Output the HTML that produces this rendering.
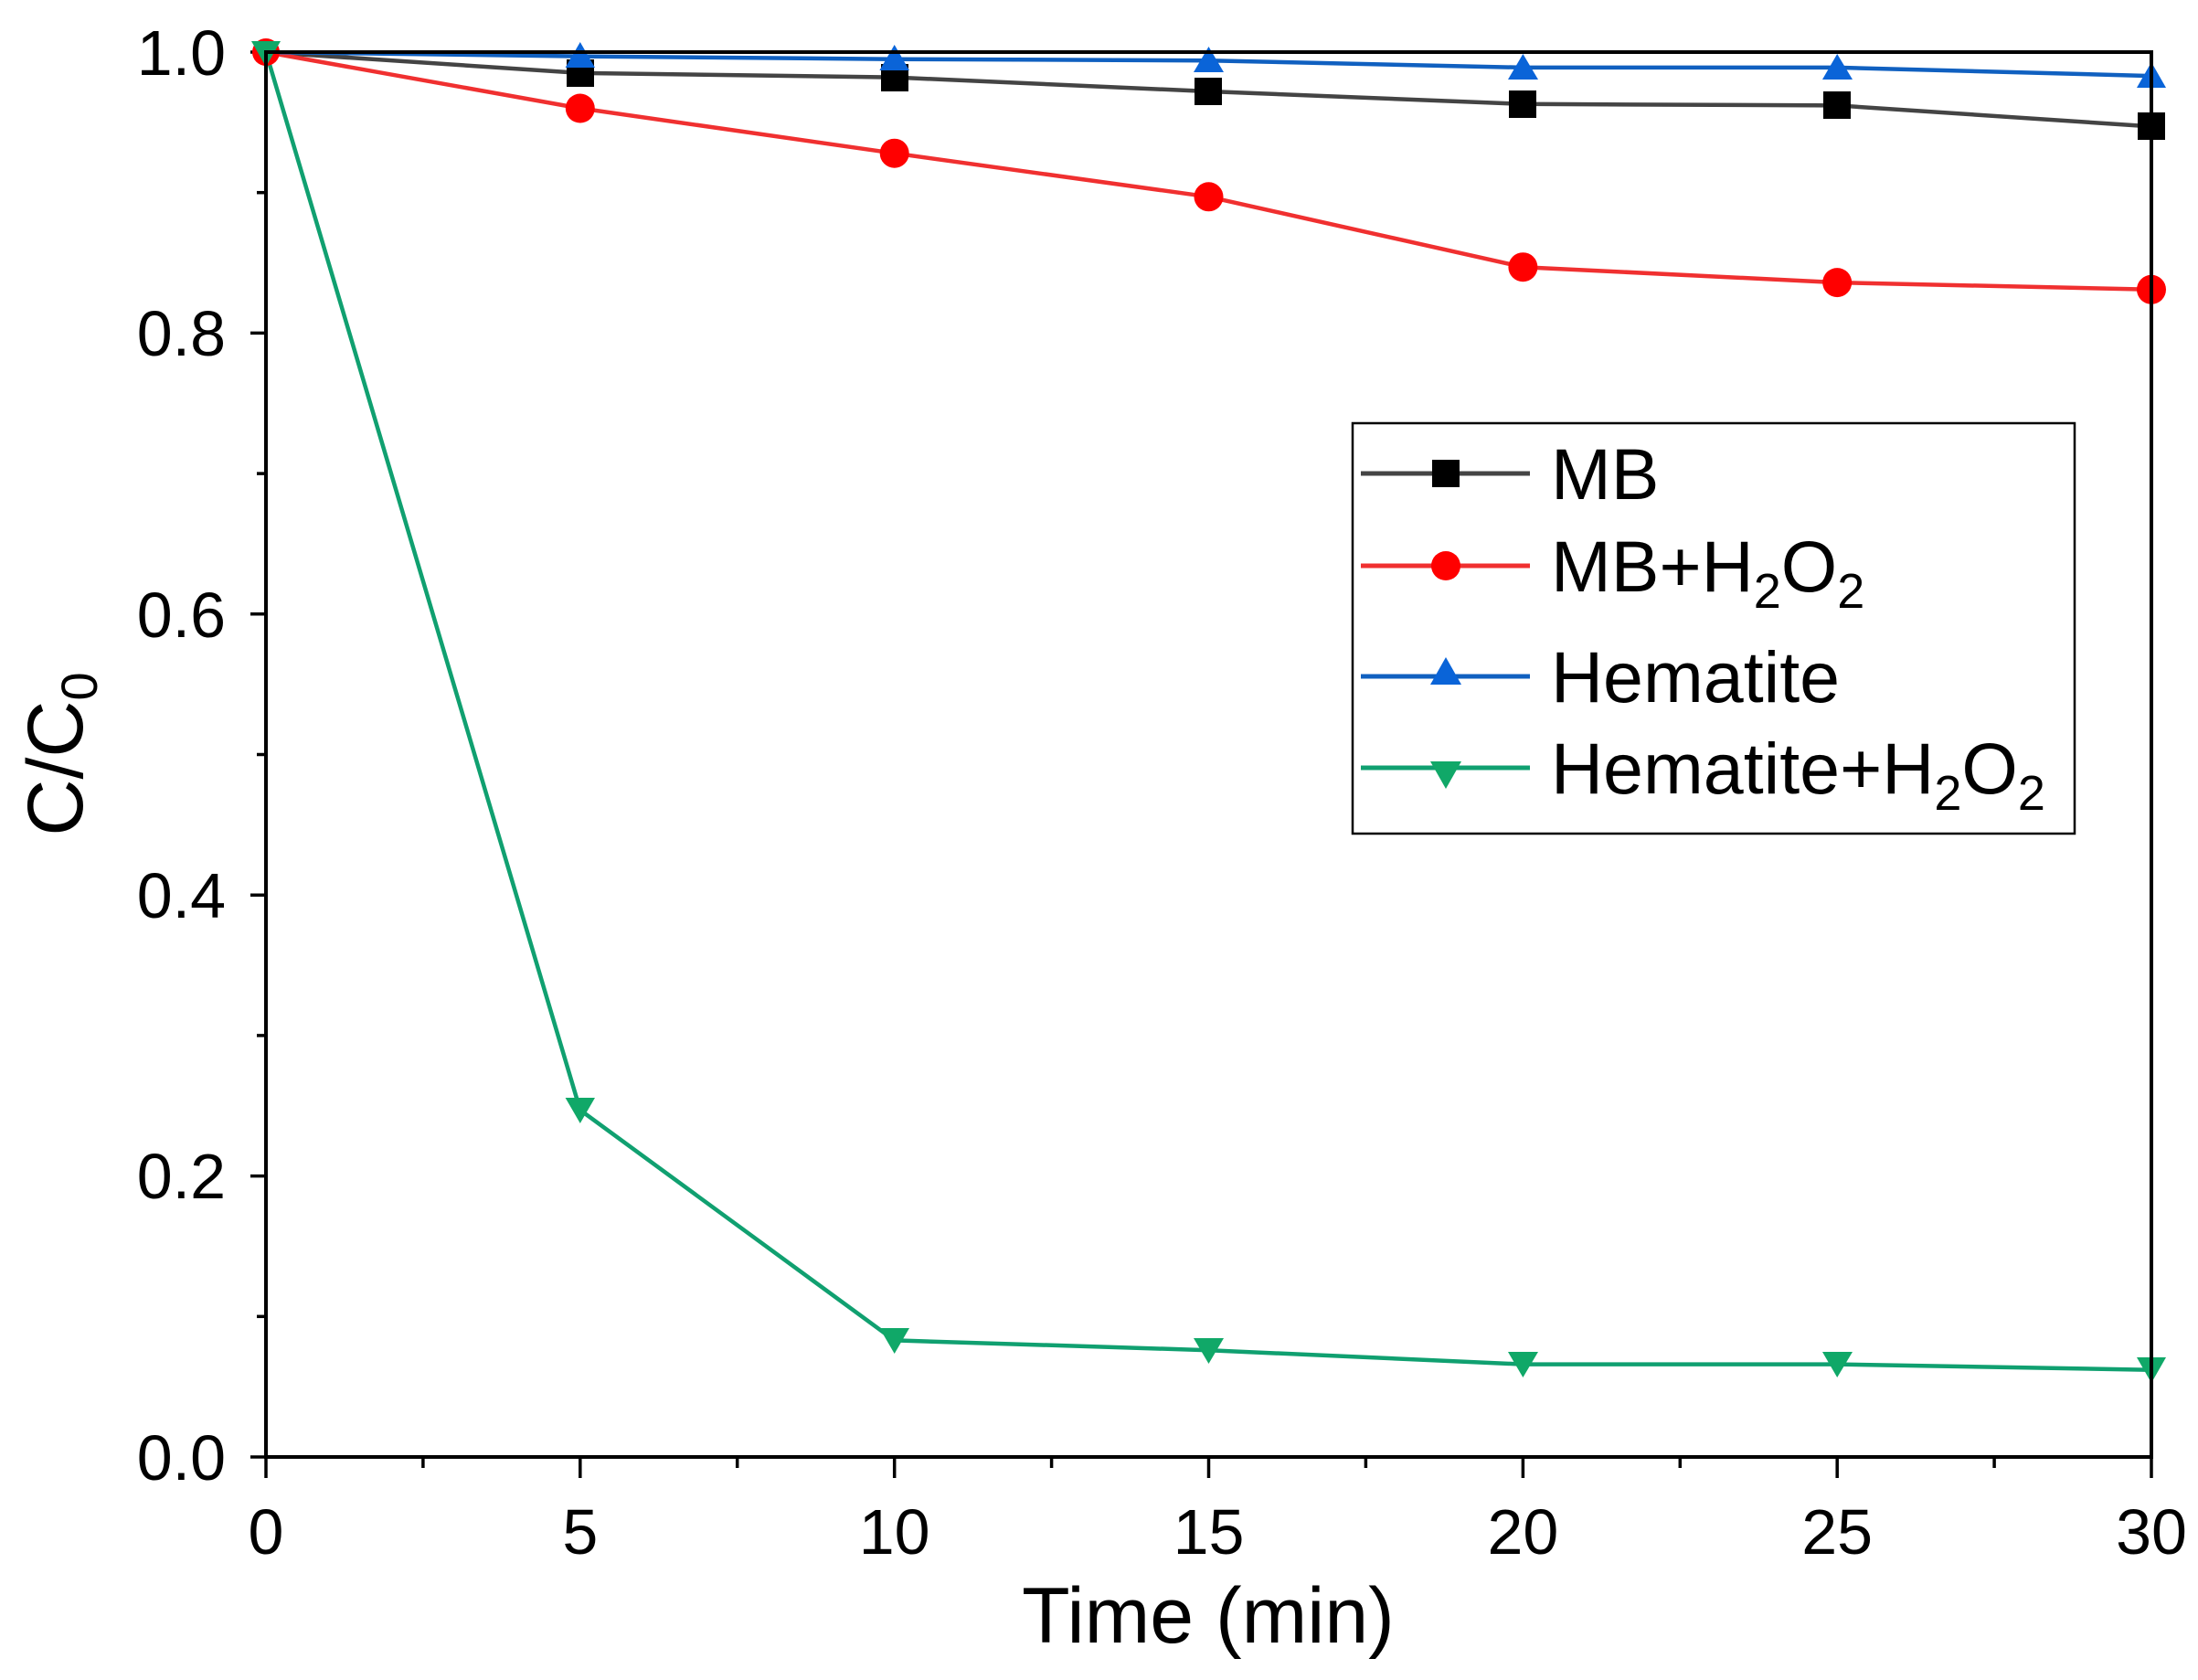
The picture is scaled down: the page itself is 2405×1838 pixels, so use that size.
<!DOCTYPE html>
<html><head><meta charset="utf-8"><style>
html,body{margin:0;padding:0;background:#fff;}
svg{display:block;}
text{font-family:"Liberation Sans",Arial,sans-serif;fill:#000;}
</style></head><body>
<svg width="2405" height="1838" viewBox="0 0 2405 1838" xmlns="http://www.w3.org/2000/svg">
<rect width="2405" height="1838" fill="#fff"/>
<g stroke="#000" stroke-width="3.5">
<line x1="274" y1="1594" x2="291" y2="1594"/><line x1="274" y1="1286.6" x2="291" y2="1286.6"/>
<line x1="274" y1="979.2" x2="291" y2="979.2"/><line x1="274" y1="671.8" x2="291" y2="671.8"/>
<line x1="274" y1="364.4" x2="291" y2="364.4"/><line x1="274" y1="57" x2="291" y2="57"/>
<line x1="281" y1="1440.3" x2="291" y2="1440.3"/><line x1="281" y1="1132.9" x2="291" y2="1132.9"/>
<line x1="281" y1="825.5" x2="291" y2="825.5"/><line x1="281" y1="518.1" x2="291" y2="518.1"/>
<line x1="281" y1="210.7" x2="291" y2="210.7"/>
<line x1="291" y1="1594" x2="291" y2="1617"/><line x1="634.8" y1="1594" x2="634.8" y2="1617"/>
<line x1="978.7" y1="1594" x2="978.7" y2="1617"/><line x1="1322.5" y1="1594" x2="1322.5" y2="1617"/>
<line x1="1666.4" y1="1594" x2="1666.4" y2="1617"/><line x1="2010.2" y1="1594" x2="2010.2" y2="1617"/>
<line x1="2354" y1="1594" x2="2354" y2="1617"/>
<line x1="462.9" y1="1594" x2="462.9" y2="1606"/><line x1="806.7" y1="1594" x2="806.7" y2="1606"/>
<line x1="1150.6" y1="1594" x2="1150.6" y2="1606"/><line x1="1494.4" y1="1594" x2="1494.4" y2="1606"/>
<line x1="1838.3" y1="1594" x2="1838.3" y2="1606"/><line x1="2182.1" y1="1594" x2="2182.1" y2="1606"/>
</g>
<g font-size="70" text-anchor="end">
<text x="247" y="1619">0.0</text><text x="247" y="1311">0.2</text><text x="247" y="1004">0.4</text>
<text x="247" y="697">0.6</text><text x="247" y="389">0.8</text><text x="247" y="82">1.0</text>
</g>
<g font-size="70" text-anchor="middle">
<text x="291" y="1700">0</text><text x="634.8" y="1700">5</text><text x="978.7" y="1700">10</text>
<text x="1322.5" y="1700">15</text><text x="1666.4" y="1700">20</text><text x="2010.2" y="1700">25</text>
<text x="2354" y="1700">30</text>
</g>
<text x="1322" y="1797" font-size="86" text-anchor="middle">Time (min)</text>
<text transform="translate(90,825) rotate(-90)" font-size="86" text-anchor="middle">C/C<tspan font-size="56" dy="16">0</tspan></text>

<polyline fill="none" stroke="#444" stroke-width="4.5" points="291,57 634.8,79.9 978.7,84.6 1322.5,100 1666.4,113.8 2010.2,115.4 2354,138.4"/>
<polyline fill="none" stroke="#f03030" stroke-width="4.5" points="291,57 634.8,118.5 978.7,167.7 1322.5,215.3 1666.4,292.2 2010.2,309.1 2354,316.8"/>
<polyline fill="none" stroke="#1060c0" stroke-width="4.5" points="291,57 634.8,61.6 978.7,64.7 1322.5,66.2 1666.4,73.9 2010.2,73.9 2354,83.1"/>
<polyline fill="none" stroke="#10a070" stroke-width="4.5" points="291,57 634.8,1214.4 978.7,1466.4 1322.5,1477.2 1666.4,1492.6 2010.2,1492.6 2354,1498.7"/>
<g fill="#000">
<rect x="620" y="65" width="30" height="30"/><rect x="964" y="70" width="30" height="30"/>
<rect x="1307" y="85" width="30" height="30"/><rect x="1651" y="99" width="30" height="30"/>
<rect x="1995" y="100" width="30" height="30"/><rect x="2339" y="123" width="30" height="30"/>
</g>
<g fill="#ff0000">
<circle cx="291" cy="57" r="15"/><circle cx="634.8" cy="118.5" r="16"/><circle cx="978.7" cy="167.7" r="16"/>
<circle cx="1322.5" cy="215.3" r="16"/><circle cx="1666.4" cy="292.2" r="16"/><circle cx="2010.2" cy="309.1" r="16"/>
<circle cx="2354" cy="316.8" r="16"/>
</g>
<g fill="#0a64d8">
<polygon points="634.8,46 651,74 618.6,74"/><polygon points="978.7,49 995,77 962.4,77"/>
<polygon points="1322.5,51 1339,79 1306,79"/><polygon points="1666.4,59 1683,87 1650,87"/>
<polygon points="2010.2,59 2027,87 1994,87"/><polygon points="2354,68 2370,96 2338,96"/>
</g>
<g fill="#10a868">
<polygon points="291,73 307,45 275,45"/>
<polygon points="634.8,1229 651,1201 618.6,1201"/><polygon points="978.7,1481 995,1453 962.4,1453"/>
<polygon points="1322.5,1492 1339,1464 1306,1464"/><polygon points="1666.4,1507 1683,1479 1650,1479"/>
<polygon points="2010.2,1507 2027,1479 1994,1479"/><polygon points="2354,1513 2370,1485 2338,1485"/>
</g>
<rect x="291" y="57" width="2063" height="1537" fill="none" stroke="#000" stroke-width="4"/>

<rect x="1480" y="463" width="790" height="449" fill="#fff" stroke="#000" stroke-width="2.5"/>
<line x1="1489" y1="518" x2="1674" y2="518" stroke="#444" stroke-width="5"/>
<rect x="1567" y="503" width="30" height="30" fill="#000"/>
<line x1="1489" y1="619" x2="1674" y2="619" stroke="#f03030" stroke-width="5"/>
<circle cx="1582" cy="619" r="16" fill="#f00"/>
<line x1="1489" y1="740" x2="1674" y2="740" stroke="#1060c0" stroke-width="5"/>
<polygon points="1582,719 1599,749 1565,749" fill="#0a64d8"/>
<line x1="1489" y1="840" x2="1674" y2="840" stroke="#10a070" stroke-width="5"/>
<polygon points="1582,863 1599,833 1565,833" fill="#10a868"/>
<g font-size="79">
<text x="1697" y="546">MB</text>
<text x="1697" y="647">MB+H<tspan font-size="54" dy="18">2</tspan><tspan dy="-18">O</tspan><tspan font-size="54" dy="18">2</tspan></text>
<text x="1697" y="768">Hematite</text>
<text x="1697" y="868">Hematite+H<tspan font-size="54" dy="18">2</tspan><tspan dy="-18">O</tspan><tspan font-size="54" dy="18">2</tspan></text>
</g>
</svg>
</body></html>
